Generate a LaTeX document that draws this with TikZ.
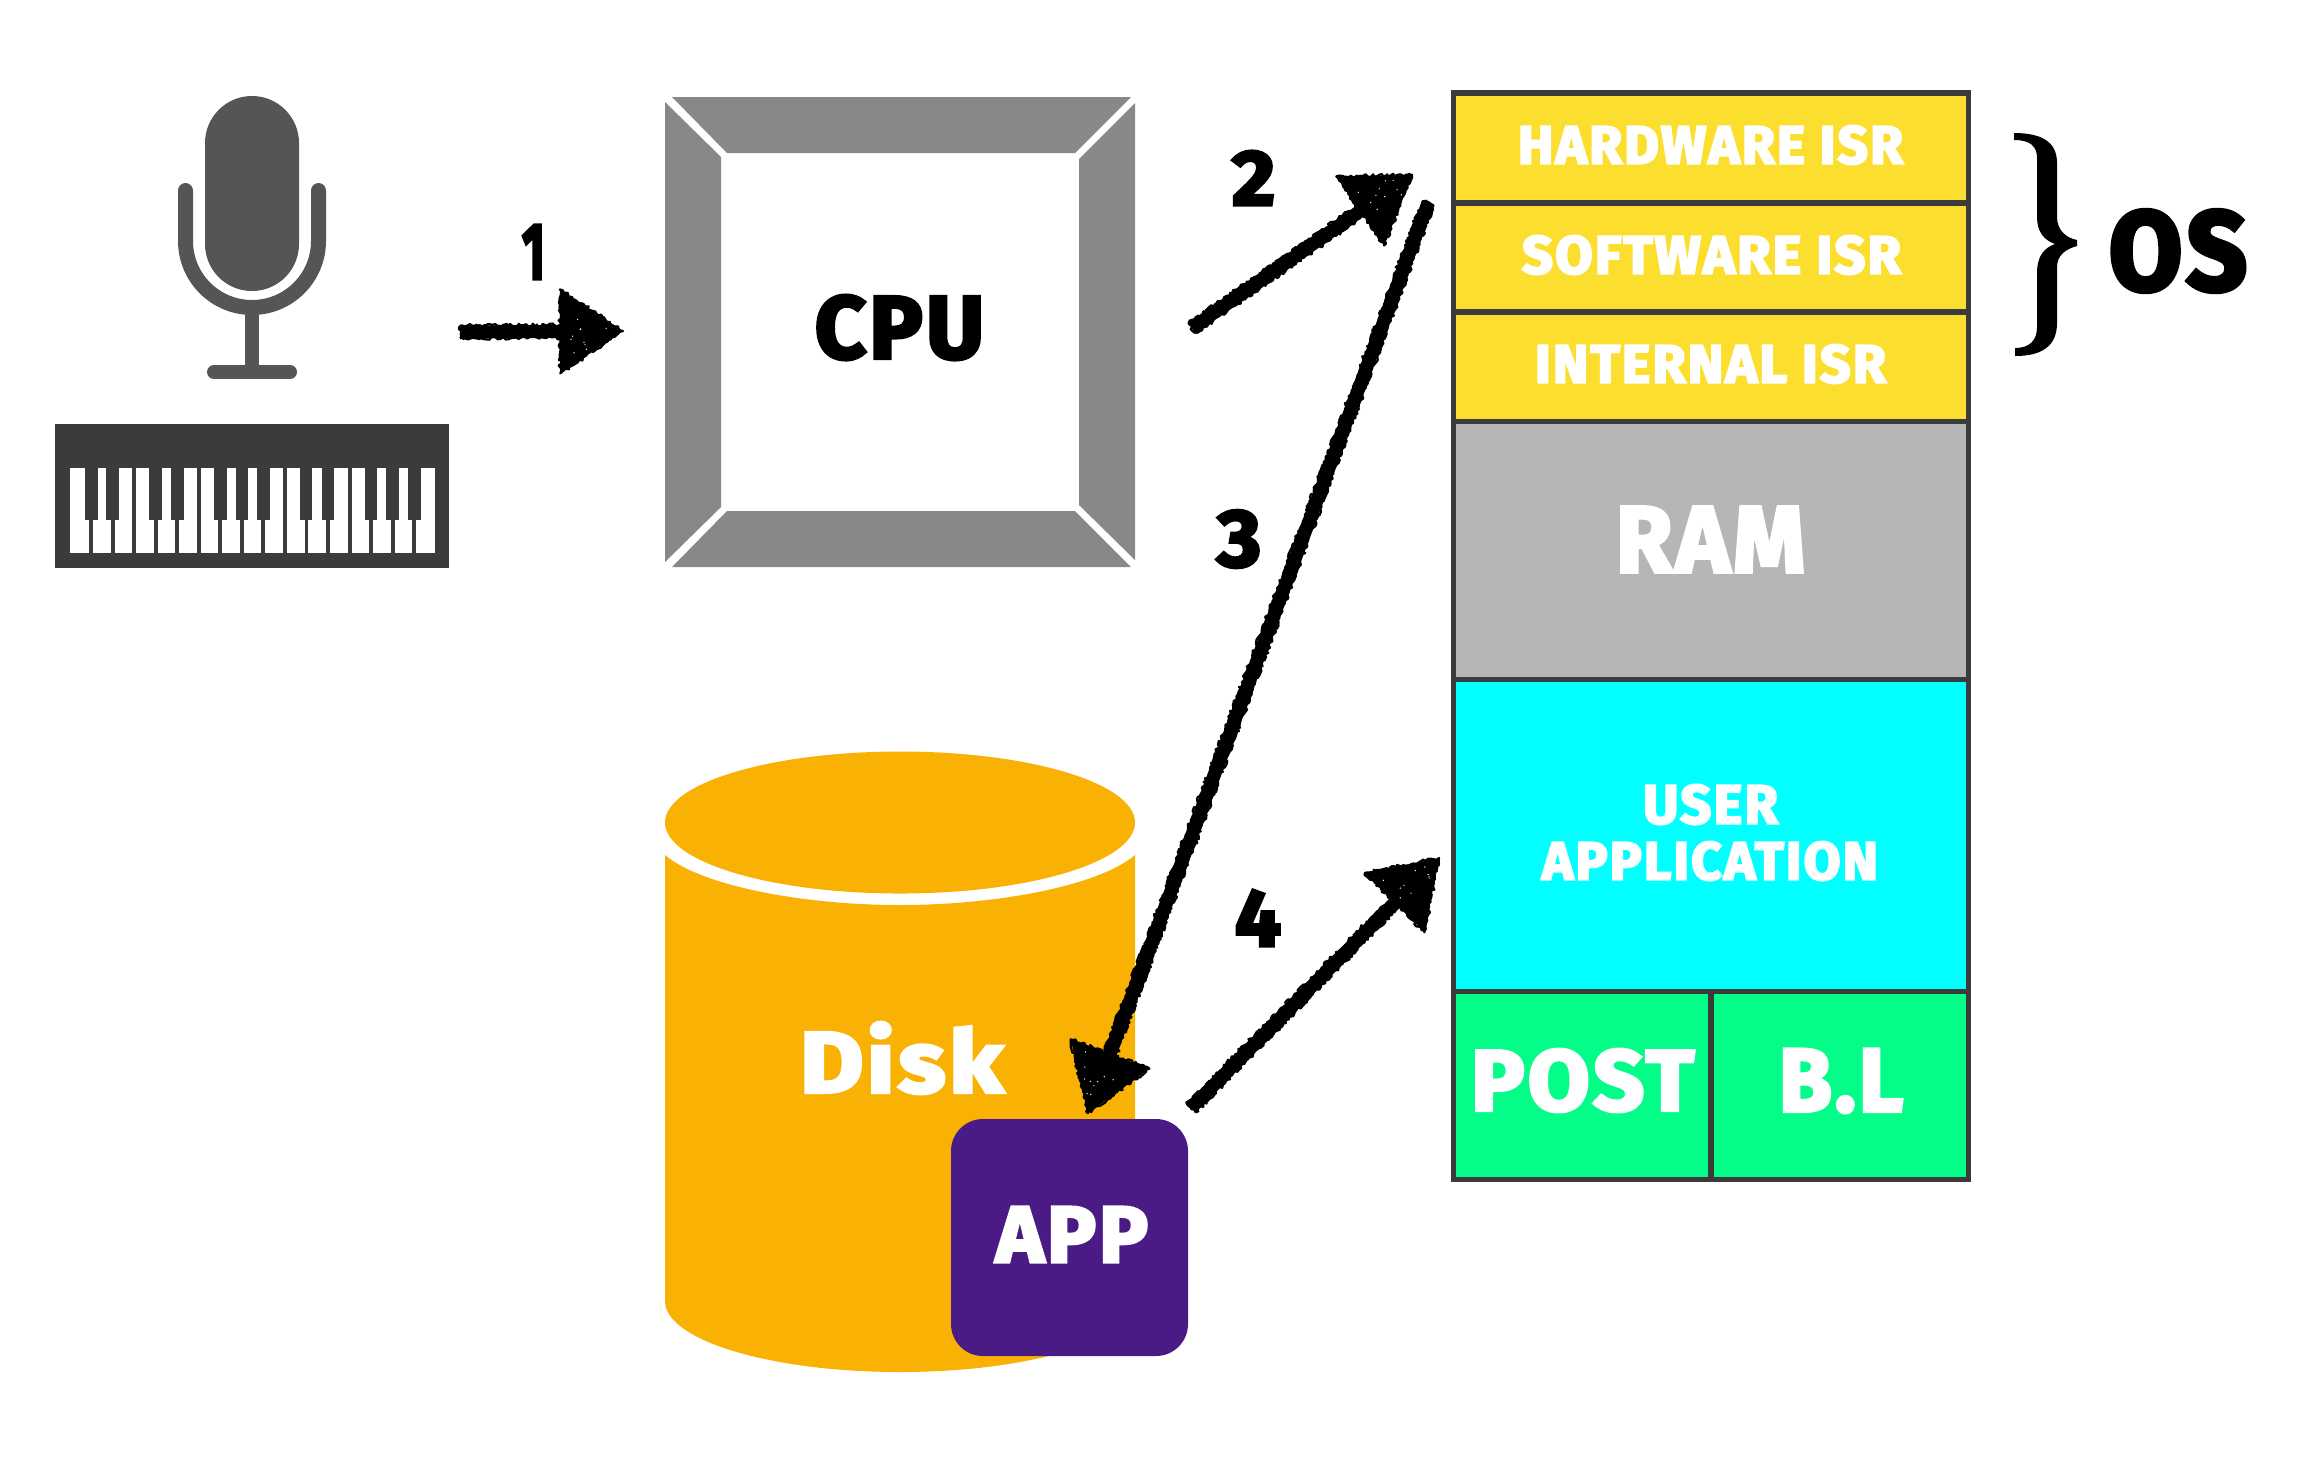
\documentclass[tikz,border=0pt]{standalone}
\usepackage{fontspec}
\setmainfont{Fira Sans}[BoldFeatures={FakeBold=4,LetterSpace=4}]
\usepackage{graphicx}
\usetikzlibrary{calc,decorations.pathmorphing}
\definecolor{micgray}{HTML}{555555}
\definecolor{framegray}{HTML}{3B3B3B}
\definecolor{cpugray}{HTML}{888888}
\definecolor{ramgray}{HTML}{B6B6B6}
\definecolor{isryellow}{HTML}{FBDE2E}
\definecolor{appcyan}{HTML}{00FFFF}
\definecolor{bootgreen}{HTML}{04FD89}
\definecolor{diskorange}{HTML}{F9B104}
\definecolor{apppurple}{HTML}{4A1B85}
\tikzstyle{block} = [draw=framegray,line width=0.55mm]
\tikzstyle{block label} = [inner sep=0pt,text=white]
\tikzstyle{step label} = [inner sep=0pt,text=black]
\tikzstyle{chalk} = [decorate,decoration={random steps,segment length=0.22mm,amplitude=0.17mm},line join=round,line width=0.22mm]
\newcommand{\fitlabel}[3]{\resizebox{#1mm}{#2mm}{\bfseries #3}}
\begin{document}
\begin{tikzpicture}[x=0.1mm,y=-0.1mm]
        \fill[white] (0,0) rectangle (2316,1458);
        % draw microphone
        \fill[micgray,rounded corners=4.7mm] (205,96) rectangle (299,291);
        \draw[micgray,line width=1.5mm,line cap=round] (185.5,190.5) -- (185.5,241) .. controls (185.5,277.7) and (215.3,307.5) .. (252,307.5) .. controls (288.7,307.5) and (318.5,277.7) .. (318.5,241) -- (318.5,190.5);
        \draw[micgray,line width=1.4mm] (252,307) -- (252,372);
        \draw[micgray,line width=1.4mm,line cap=round] (214,372) -- (290,372);
        % draw keyboard
        \fill[framegray] (55,424) rectangle (449,568);
        \foreach \x/\X in {70/89,93/111,115/132,136/154,158/175,179/197,201/218,222/240,244/261,265/283,287/305,308/326,330/348,352/369,373/391,395/412,416/435} {
        	\fill[white] (\x,468) rectangle (\X,553);
        }
        \foreach \x/\X in {85/98,106/119,149/162,171/184,214/227,236/248,257/270,300/312,322/334,365/377,386/399,408/421} {
        	\fill[framegray] (\x,468) rectangle (\X,520);
        }
        % draw cpu
        \fill[cpugray] (672,97) -- (1131,97) -- (1075,153) -- (727,153) -- cycle;
        \fill[cpugray] (665,102) -- (721,157) -- (721,507) -- (665,562) -- cycle;
        \fill[cpugray] (1135,103) -- (1079,159) -- (1079,505) -- (1135,560) -- cycle;
        \fill[cpugray] (672,567) -- (727,511) -- (1075,511) -- (1131,567) -- cycle;
        \node[step label] (cpu) at (899.5,327.5) {\fitlabel{16.9}{6.3}{CPU}};
        % draw memory stack
        \draw[block,fill=isryellow] (1453.5,93) rectangle (1968.5,203);
        \draw[block,fill=isryellow] (1453.5,203) rectangle (1968.5,312);
        \draw[block,fill=isryellow] (1453.5,312) rectangle (1968.5,421.5);
        \draw[block,fill=ramgray] (1453.5,421.5) rectangle (1968.5,679.5);
        \draw[block,fill=appcyan] (1453.5,679.5) rectangle (1968.5,991.5);
        \draw[block,fill=bootgreen] (1453.5,991.5) rectangle (1711,1179.5);
        \draw[block,fill=bootgreen] (1711,991.5) rectangle (1968.5,1179.5);
        % draw stack labels
        \node[block label] (hwisr) at (1710.5,145) {\fitlabel{38.5}{3.8}{HARDWARE ISR}};
        \node[block label] (swisr) at (1711.5,255) {\fitlabel{37.9}{3.8}{SOFTWARE ISR}};
        \node[block label] (intisr) at (1710.5,364) {\fitlabel{35.1}{3.8}{INTERNAL ISR}};
        \node[block label] (ram) at (1710.5,539.5) {\fitlabel{18.9}{6.5}{RAM}};
        \node[block label] (user) at (1710.5,804.5) {\fitlabel{13.5}{3.9}{USER}};
        \node[block label] (application) at (1710,861) {\fitlabel{33.6}{3.8}{APPLICATION}};
        \node[block label] (post) at (1582.5,1080.5) {\fitlabel{22.3}{6.1}{POST}};
        \node[block label] (bl) at (1841,1081) {\fitlabel{12.4}{6.2}{B.L}};
        % draw brace
        \fill[black] (2014,133) .. controls (2042,133) and (2057,142) .. (2057,163) -- (2057,217) .. controls (2057,230) and (2066,238) .. (2077,240) -- (2077,246) .. controls (2066,249) and (2057,255) .. (2057,267) -- (2057,323) .. controls (2057,346) and (2042,356) .. (2015,356) -- (2015,348) .. controls (2030,348) and (2037,340) .. (2037,327) -- (2037,273) .. controls (2037,256) and (2044,248) .. (2055,244) .. controls (2044,240) and (2037,232) .. (2037,217) -- (2037,158) .. controls (2037,146) and (2030,140) .. (2014,140) -- cycle;
        \node[step label] (os) at (2178,251) {\fitlabel{13.8}{8.0}{OS}};
        % draw disk
        \fill[diskorange] (900,822.5) ellipse (235 and 71);
        \fill[diskorange] (665,855) .. controls (700,885) and (800,905) .. (900,905) .. controls (1000,905) and (1100,885) .. (1135,855) -- (1135,1301) .. controls (1135,1340) and (1030,1372) .. (900,1372) .. controls (770,1372) and (665,1340) .. (665,1301) -- cycle;
        \node[block label] (disk) at (901.5,1058) {\fitlabel{20.3}{7.0}{Disk}};
        % draw app
        \fill[apppurple,rounded corners=3.2mm] (951,1119) rectangle (1188,1356);
        \node[block label] (app) at (1072,1234.5) {\fitlabel{15.2}{5.5}{APP}};
        % draw step numbers
        \node[step label] (one) at (533.5,252) {\fitlabel{2.3}{5.4}{1}};
        \node[step label] (two) at (1253.5,178) {\fitlabel{4.3}{5.4}{2}};
        \node[step label] (three) at (1239,539) {\fitlabel{4.4}{5.6}{3}};
        \node[step label] (four) at (1258,918) {\fitlabel{4.6}{5.6}{4}};
        % draw arrows
        \coordinate (tailA) at (460,332);
        \coordinate (tipA) at (623,331);
        \coordinate (tailB) at (1192,328);
        \coordinate (tipB) at (1412,175);
        \coordinate (tailC) at (1428,203);
        \coordinate (tipC) at (1088,1113);
        \coordinate (tailD) at (1191,1108);
        \coordinate (tipD) at (1439,858);
        \pgfmathsetseed{7}
        \foreach \a/\b in {tailA/tipA,tailB/tipB,tailC/tipC,tailD/tipD} {
        	\coordinate (base) at ($(\b)!6.3mm!(\a)$);
        	\coordinate (left) at ($(base)!4.2mm!90:(\b)$);
        	\coordinate (right) at ($(base)!4.2mm!-90:(\b)$);
        	% solid body
        	\draw[line width=1.3mm] (\a) -- (base);
        	\fill (\b) -- (left) -- (right) -- cycle;
        	% rough edges
        	\draw[chalk] ($(\a)!0.62mm!90:(base)$) -- ($(base)!0.62mm!-90:(\a)$);
        	\draw[chalk] ($(\a)!0.62mm!-90:(base)$) -- ($(base)!0.62mm!90:(\a)$);
        	\draw[chalk] ($(\a)!0.62mm!90:(base)$) -- ($(\a)!0.62mm!-90:(base)$);
        	\draw[chalk] (\b) -- (left) -- (right) -- cycle;
        	% white flecks in the head
        	\foreach \i in {1,...,10} {
        		\pgfmathsetmacro{\u}{0.1+0.65*rnd}
        		\pgfmathsetmacro{\v}{3.2*(1-\u)*(2*rnd-1)}
        		\fill[white] ($($(base)!\u!(\b)$)!\v mm!90:(\b)$) circle (0.07mm);
        	}
        }
\end{tikzpicture}
\end{document}
